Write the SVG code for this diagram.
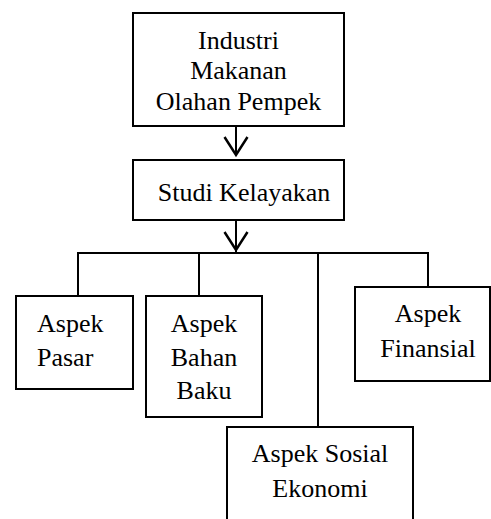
<svg xmlns="http://www.w3.org/2000/svg" width="491" height="519" viewBox="0 0 491 519">
<style>
.box{fill:#fff;stroke:#000;stroke-width:2}
.ln{fill:none;stroke:#000;stroke-width:2}
.arr{fill:none;stroke:#000;stroke-width:2.5}
text{font-family:"Liberation Serif","Times New Roman",serif;font-size:26px;fill:#000}
.c{text-anchor:middle}
</style>
<rect width="491" height="519" fill="#fff"/>
<g id="connectors">
<line class="ln" x1="236" y1="126" x2="236" y2="154"/>
<polyline class="arr" points="224.5,137 236,155 247.5,137"/>
<line class="ln" x1="236" y1="220" x2="236" y2="253"/>
<polyline class="arr" points="224.5,232 236,250 247.5,232"/>
<polyline class="ln" points="78,296 78,253 428,253 428,287"/>
<line class="ln" x1="199" y1="253" x2="199" y2="296"/>
<line class="ln" x1="318" y1="253" x2="318" y2="427"/>
</g>
<g id="n-industri">
<rect class="box" x="133" y="13" width="211" height="113"/>
<text class="c" x="238.5" y="49">Industri</text>
<text class="c" x="238.5" y="79">Makanan</text>
<text class="c" x="238.5" y="110">Olahan Pempek</text>
</g>
<g id="n-studi">
<rect class="box" x="133" y="160" width="211" height="60"/>
<text class="c" x="244" y="201">Studi Kelayakan</text>
</g>
<g id="n-pasar">
<rect class="box" x="16" y="296" width="117" height="93"/>
<text x="37" y="332">Aspek</text>
<text x="37" y="366">Pasar</text>
</g>
<g id="n-bahan">
<rect class="box" x="146" y="296" width="116" height="121"/>
<text class="c" x="204" y="332">Aspek</text>
<text class="c" x="204" y="366">Bahan</text>
<text class="c" x="204" y="399">Baku</text>
</g>
<g id="n-finansial">
<rect class="box" x="355" y="287" width="135" height="94"/>
<text class="c" x="428" y="322">Aspek</text>
<text class="c" x="428" y="357">Finansial</text>
</g>
<g id="n-sosial">
<rect class="box" x="227" y="427" width="186" height="100"/>
<text class="c" x="320" y="462">Aspek Sosial</text>
<text class="c" x="320" y="497">Ekonomi</text>
</g>
</svg>
